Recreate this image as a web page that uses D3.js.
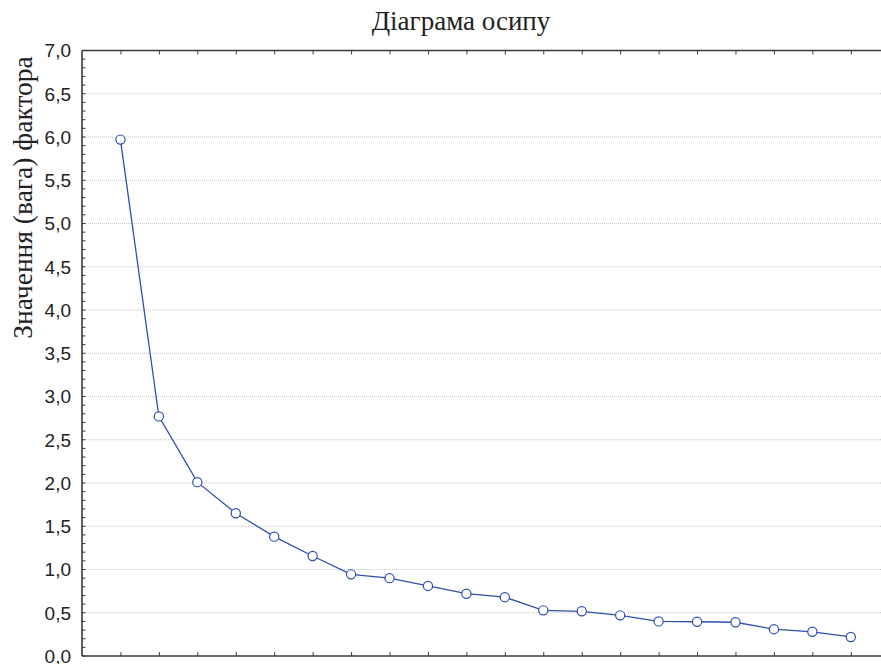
<!DOCTYPE html>
<html><head><meta charset="utf-8">
<script src="https://cdn.jsdelivr.net/npm/d3@7"></script>
<style>body{margin:0;background:#fff}svg{display:block}</style>
</head><body>
<svg id="chart" width="881" height="664"></svg>
<script>
const factorNumbers = [1,2,3,4,5,6,7,8,9,10,11,12,13,14,15,16,17,18,19,20];
const eigenvalues = [5.97,2.77,2.01,1.65,1.38,1.156,0.944,0.90,0.81,0.72,0.68,0.528,0.517,0.47,0.40,0.396,0.39,0.31,0.28,0.22];
const yTickValues = [0,0.5,1,1.5,2,2.5,3,3.5,4,4.5,5,5.5,6,6.5,7];
const titleText = "Діаграма осипу";
const yTitleText = "Значення (вага) фактора";

(function () {
const svg = d3.select("#chart");
const pLeft = 82, pTop = 50.5, pBottom = 656, step = 38.44;
const x = d3.scaleLinear().domain([0,21]).range([pLeft, pLeft + 21*step]);
const y = d3.scaleLinear().domain([0,7]).range([pBottom, pTop]);
const axisColor = "#3a3a3a";
const blue = "#2f4fae";

// gridlines
svg.append("g").selectAll("line").data(yTickValues.filter(v => v > 0 && v < 7)).join("line")
  .attr("x1", pLeft).attr("x2", x(21)).attr("y1", d => y(d)).attr("y2", d => y(d))
  .attr("stroke", "#c4c4c4").attr("stroke-width", 1).attr("stroke-dasharray", "1,1");

// left axis with labels
const fmt = d => d3.format(".1f")(d).replace(".", ",");
const yAxis = d3.axisLeft(y).tickValues(yTickValues).tickFormat(fmt).tickSize(0).tickPadding(11);
const gy = svg.append("g").attr("transform", `translate(${pLeft},0)`).call(yAxis);
gy.select(".domain").remove();
gy.selectAll("text").attr("font-family", "'Liberation Sans', Arial, sans-serif").attr("font-size", 19).attr("fill", "#222")
  .attr("dy", "0.33em");

// inward minor ticks every 0.1
const minor = d3.range(0, 71).map(i => i / 10);
svg.append("g").selectAll("line").data(minor).join("line")
  .attr("x1", pLeft).attr("x2", pLeft + 3.5).attr("y1", d => y(d)).attr("y2", d => y(d))
  .attr("stroke", axisColor).attr("stroke-width", 1);

// top axis (ticks down), bottom axis (ticks up)
const xTop = d3.axisBottom(x).tickValues(factorNumbers).tickSize(4).tickFormat("");
const gt = svg.append("g").attr("transform", `translate(0,${pTop})`).call(xTop);
gt.select(".domain").remove();
gt.selectAll("line").attr("stroke", axisColor);
const xBot = d3.axisTop(x).tickValues(factorNumbers).tickSize(4).tickFormat("");
const gb = svg.append("g").attr("transform", `translate(0,${pBottom})`).call(xBot);
gb.select(".domain").remove();
gb.selectAll("line").attr("stroke", axisColor);

// frame lines
svg.append("line").attr("x1", pLeft).attr("x2", pLeft).attr("y1", pTop).attr("y2", pBottom)
  .attr("stroke", axisColor).attr("stroke-width", 1.6);
svg.append("line").attr("x1", pLeft).attr("x2", x(21)).attr("y1", pTop).attr("y2", pTop)
  .attr("stroke", axisColor).attr("stroke-width", 1.6);
svg.append("line").attr("x1", pLeft).attr("x2", x(21)).attr("y1", pBottom).attr("y2", pBottom)
  .attr("stroke", axisColor).attr("stroke-width", 1.6);

// series
const data = factorNumbers.map((f, i) => ({f, v: eigenvalues[i]}));
svg.append("path").datum(data)
  .attr("d", d3.line().x(d => x(d.f)).y(d => y(d.v)))
  .attr("fill", "none").attr("stroke", blue).attr("stroke-width", 1.3);
svg.append("g").selectAll("circle").data(data).join("circle")
  .attr("cx", d => x(d.f)).attr("cy", d => y(d.v)).attr("r", 4.6)
  .attr("fill", "#fff").attr("stroke", blue).attr("stroke-width", 1.2);

// titles
svg.append("text").attr("x", 461).attr("y", 30).attr("text-anchor", "middle")
  .attr("font-family", "'Liberation Serif', 'Times New Roman', serif").attr("font-size", 27).attr("fill", "#222")
  .text(titleText);
svg.append("text").attr("transform", "translate(32,197.5) rotate(-90)").attr("text-anchor", "middle")
  .attr("font-family", "'Liberation Serif', 'Times New Roman', serif").attr("font-size", 27.5).attr("fill", "#222")
  .text(yTitleText);
})();
</script>
</body></html>
